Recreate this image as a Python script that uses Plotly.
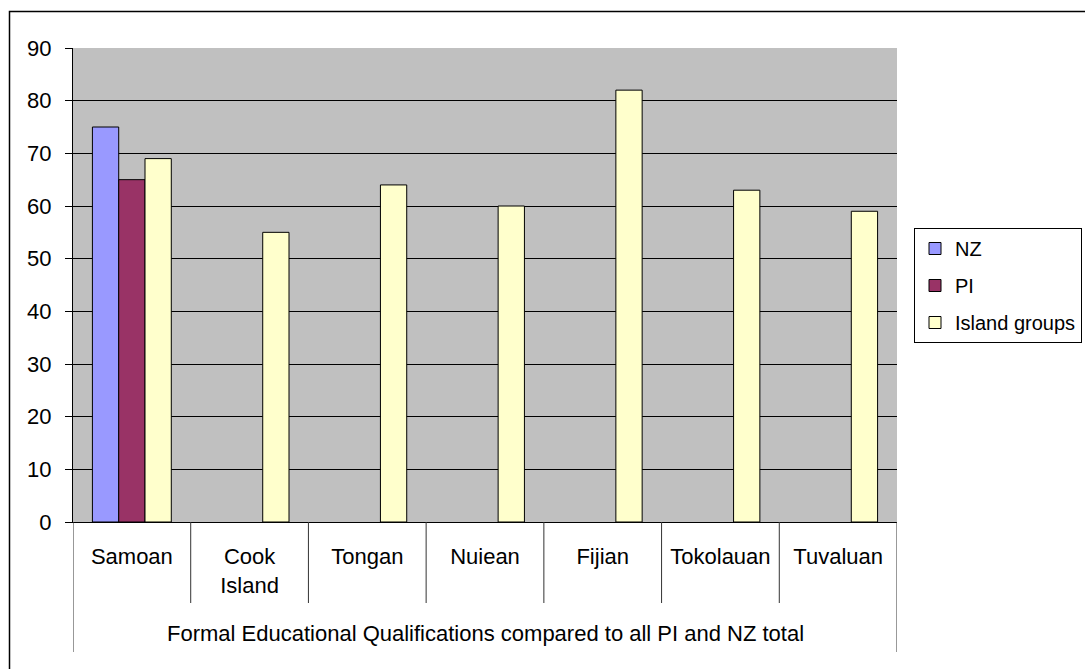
import plotly.graph_objects as go

categories = ["Samoan", "Cook Island", "Tongan", "Nuiean", "Fijian", "Tokolauan", "Tuvaluan"]
tick_labels = ["Samoan", "Cook<br>Island", "Tongan", "Nuiean", "Fijian", "Tokolauan", "Tuvaluan"]
nz_values = [75, None, None, None, None, None, None]
pi_values = [65, None, None, None, None, None, None]
island_values = [69, 55, 64, 60, 82, 63, 59]
outer_label = "Formal Educational Qualifications compared to all PI and NZ total"
y_ticks = list(range(0, 91, 10))

FONT = "Liberation Sans, Arial, sans-serif"
FS = 22
W, H = 1085, 669
L, R, T, B = 73, 188, 48, 147
PW, PH = W - L - R, H - T - B

def px_x(p):
    return (p - L) / PW

def px_y(p):
    return (H - B - p) / PH

fig = go.Figure()
series = [("NZ", nz_values, "#9999FF"), ("PI", pi_values, "#993366"), ("Island groups", island_values, "#FFFFCC")]
for name, vals, col in series:
    fig.add_trace(go.Bar(
        name=name, x=categories, y=vals, legendgroup=name,
        marker=dict(color=col, line=dict(color="black", width=1)),
    ))

shapes = []
n = len(categories)
for k in range(n + 1):
    shapes.append(dict(type="line", xref="x", yref="paper", x0=k - 0.5, x1=k - 0.5,
                       y0=0, y1=px_y(603), line=dict(color="#333333", width=1)))
for xv in (-0.5, n - 0.5):
    shapes.append(dict(type="line", xref="x", yref="paper", x0=xv, x1=xv,
                       y0=px_y(603), y1=px_y(652), line=dict(color="#333333", width=1)))
shapes.append(dict(type="rect", xref="paper", yref="paper", x0=px_x(9.5), x1=px_x(1250),
                   y0=px_y(750), y1=px_y(11.5), line=dict(color="black", width=1.5),
                   fillcolor="rgba(0,0,0,0)", layer="below"))

fig.update_layout(
    width=W, height=H,
    margin=dict(l=L, r=R, t=T, b=B, pad=0, autoexpand=False),
    paper_bgcolor="white", plot_bgcolor="#C0C0C0",
    font=dict(family=FONT, size=FS, color="black"),
    barmode="group", bargap=0.33, bargroupgap=0,
    showlegend=True,
    legend=dict(xref="container", yref="container", x=914 / W, y=1 - 228 / H,
                xanchor="left", yanchor="top",
                bordercolor="black", borderwidth=1, bgcolor="white",
                font=dict(family=FONT, size=20, color="black"),
                tracegroupgap=8, traceorder="grouped"),
    shapes=shapes,
    annotations=[dict(text=outer_label, xref="paper", yref="paper", x=0.5, y=px_y(633),
                      xanchor="center", yanchor="middle", showarrow=False,
                      font=dict(family=FONT, size=FS, color="black"))],
)
fig.update_xaxes(
    type="category", categoryorder="array", categoryarray=categories,
    tickmode="array", tickvals=categories, ticktext=tick_labels,
    ticks="", showline=True, linecolor="black", linewidth=1,
    showgrid=False, zeroline=False, ticklabelstandoff=15,
    range=[-0.5, n - 0.5],
)
fig.update_yaxes(
    range=[0, 90], tickmode="array", tickvals=y_ticks,
    ticks="outside", ticklen=7, tickcolor="black", tickwidth=1,
    showline=True, linecolor="black", linewidth=1,
    showgrid=True, gridcolor="black", gridwidth=1, zeroline=False,
    ticklabelstandoff=9,
)

fig.write_html("out.html", config={"displayModeBar": False},
               post_script="document.body.style.margin='0';")
